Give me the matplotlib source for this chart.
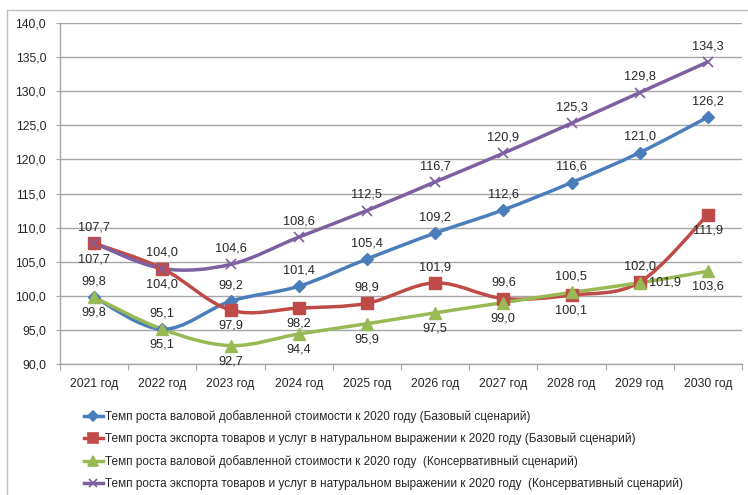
import numpy as np
import matplotlib
matplotlib.use("Agg")
import matplotlib.pyplot as plt
from matplotlib import font_manager
from matplotlib.path import Path
from matplotlib.patches import PathPatch
from matplotlib.lines import Line2D

# ----------------------------------------------------- данные
years = ["2021 год", "2022 год", "2023 год", "2024 год", "2025 год",
         "2026 год", "2027 год", "2028 год", "2029 год", "2030 год"]
vds_base = [99.8, 95.1, 99.2, 101.4, 105.4, 109.2, 112.6, 116.6, 121.0, 126.2]
exp_base = [107.7, 104.0, 97.9, 98.2, 98.9, 101.9, 99.6, 100.1, 102.0, 111.9]
vds_cons = [99.8, 95.1, 92.7, 94.4, 95.9, 97.5, 99.0, 100.5, 101.9, 103.6]
exp_cons = [107.7, 104.0, 104.6, 108.6, 112.5, 116.7, 120.9, 125.3, 129.8, 134.3]
names = [
    "Темп роста валовой добавленной стоимости к 2020 году (Базовый сценарий)",
    "Темп роста экспорта товаров и услуг в натуральном выражении к 2020 году (Базовый сценарий)",
    "Темп роста валовой добавленной стоимости к 2020 году  (Консервативный сценарий)",
    "Темп роста экспорта товаров и услуг в натуральном выражении к 2020 году  (Консервативный сценарий)",
]

# ----------------------------------------------------- оформление
names_avail = {f.name for f in font_manager.fontManager.ttflist}
FONT = "Liberation Sans Narrow" if "Liberation Sans Narrow" in names_avail else "Liberation Sans"
NARROW = FONT.endswith("Narrow")
plt.rcParams["font.family"] = [FONT, "DejaVu Sans"]
FS_LEG = 10 if NARROW else 8.5
FS_TICK = 10 if NARROW else 8.7
FS_LAB = 10.5 if NARROW else 9.2

styles = [
    dict(color="#4A7EBB", marker="D", ms=6),
    dict(color="#BE4B48", marker="s", ms=8),
    dict(color="#98B954", marker="^", ms=8),
    dict(color="#7D60A0", marker="x", ms=7),
]
# положение подписей: a = сверху, b = снизу, r = справа
label_pos = [
    "aaaaaaaaaa",
    "bbbbaaabab",
    "bbbbbbbarb",
    "aaaaaaaaaa",
]


def smooth_path(y):
    """Сглаженная линия (как в Excel): кубические Безье через точки."""
    x = np.arange(len(y), dtype=float)
    p = np.column_stack([x, np.asarray(y, float)])
    verts = [p[0]]
    codes = [Path.MOVETO]
    n = len(p)
    for i in range(n - 1):
        p0 = p[i - 1] if i > 0 else p[i]
        p3 = p[i + 2] if i + 2 < n else p[i + 1]
        c1 = p[i] + (p[i + 1] - p0) / 6
        c2 = p[i + 1] - (p3 - p[i]) / 6
        verts += [c1, c2, p[i + 1]]
        codes += [Path.CURVE4] * 3
    return Path(verts, codes)


fig = plt.figure(figsize=(7.48, 4.95), dpi=100)
ax = fig.add_axes([60 / 748, 131 / 495, 682 / 748, 341 / 495])

series = [vds_base, exp_base, vds_cons, exp_cons]
x = np.arange(len(years))
for vals, st, pos in zip(series, styles, label_pos):
    ax.add_patch(PathPatch(smooth_path(vals), fill=False, edgecolor=st["color"],
                           lw=2.5, zorder=3, capstyle="round"))
    ax.plot(x, vals, ls="none", marker=st["marker"], ms=st["ms"], color=st["color"],
            mec=st["color"], mew=1.2 if st["marker"] == "x" else 1, zorder=4)
    for i, v in enumerate(vals):
        txt = f"{v:.1f}".replace(".", ",")
        if pos[i] == "a":
            ax.annotate(txt, (i, v), xytext=(0, 7), textcoords="offset points",
                        ha="center", va="bottom", fontsize=FS_LAB, color="#262626")
        elif pos[i] == "b":
            ax.annotate(txt, (i, v), xytext=(0, -7), textcoords="offset points",
                        ha="center", va="top", fontsize=FS_LAB, color="#262626")
        else:
            ax.annotate(txt, (i, v), xytext=(7, 0), textcoords="offset points",
                        ha="left", va="center", fontsize=FS_LAB, color="#262626")

ax.set_xlim(-0.5, len(years) - 0.5)
ax.set_ylim(90, 140)
ax.set_yticks(np.arange(90, 141, 5))
ax.set_yticklabels([f"{t:.1f}".replace(".", ",") for t in np.arange(90, 141, 5)],
                   fontsize=FS_TICK, color="#262626")
ax.set_xticks(np.arange(-0.5, len(years), 1))
ax.set_xticklabels([])
ax.set_xticks(x, minor=True)
ax.set_xticklabels(years, minor=True, fontsize=FS_TICK, color="#262626")
ax.tick_params(axis="x", which="major", length=4, color="#A6A6A6", direction="out")
ax.tick_params(axis="x", which="minor", length=0, pad=10)
ax.tick_params(axis="y", length=3, color="#A6A6A6", pad=7)
ax.grid(axis="y", color="#A6A6A6", lw=1)
ax.set_axisbelow(True)
for s in ["top", "right"]:
    ax.spines[s].set_visible(False)
for s in ["left", "bottom"]:
    ax.spines[s].set_color("#A6A6A6")
    ax.spines[s].set_linewidth(1)

handles = [Line2D([], [], color=st["color"], lw=2.5, marker=st["marker"],
                  ms=st["ms"] * 0.85, mew=1.2) for st in styles]
fig.legend(handles, names, loc="upper left", bbox_to_anchor=(84 / 748, 1 - 410 / 495),
           frameon=False, fontsize=FS_LEG, handlelength=1.6, handletextpad=0.2,
           labelspacing=0.83, borderpad=0, borderaxespad=0, labelcolor="#262626")

# рамка области диаграммы
fig.add_artist(Line2D([7 / 748, 7 / 748, 1], [0, 1 - 10 / 495, 1 - 10 / 495],
                      transform=fig.transFigure, color="#BFBFBF", lw=1))

fig.savefig("out.png", dpi=100)
